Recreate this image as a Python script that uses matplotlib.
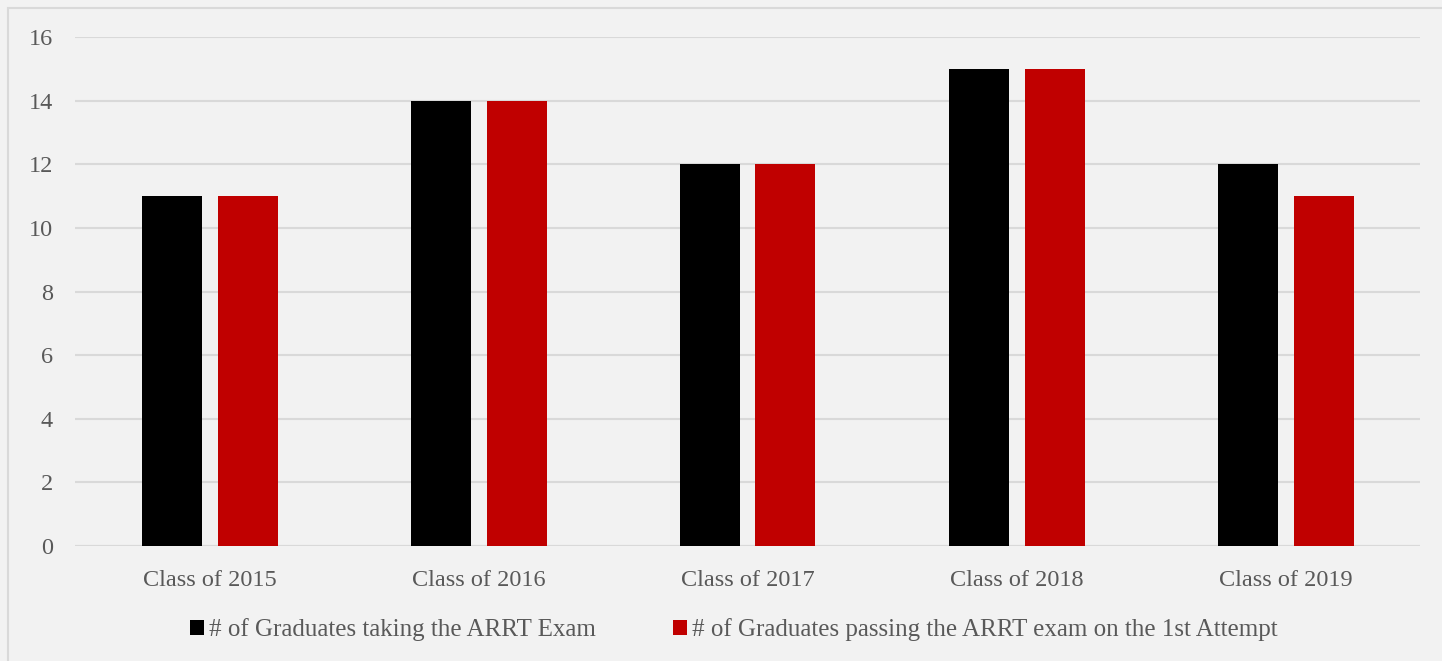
import numpy as np
import matplotlib
matplotlib.use("Agg")
import matplotlib.pyplot as plt
from matplotlib.patches import Rectangle

categories = ["Class of 2015", "Class of 2016", "Class of 2017", "Class of 2018", "Class of 2019"]
taking = [11, 14, 12, 15, 12]
passing = [11, 14, 12, 15, 11]
series_names = ["# of Graduates taking the ARRT Exam",
                "# of Graduates passing the ARRT exam on the 1st Attempt"]
yticks = [0, 2, 4, 6, 8, 10, 12, 14, 16]

plt.rcParams['font.family'] = ['Liberation Serif', 'DejaVu Serif']

W, H = 1442, 661
fig = plt.figure(figsize=(W / 100, H / 100), dpi=100)
fig.patch.set_facecolor('#F2F2F2')
fig.patches.append(Rectangle((8 / W, -0.01), 1.02 - 8 / W, 1 - 8 / H + 0.01,
                             transform=fig.transFigure, fill=False,
                             edgecolor='#D9D9D9', linewidth=1.5))

ax = fig.add_axes([75 / W, 115 / H, 1345 / W, 509 / H])
ax.set_facecolor('#F2F2F2')

x = np.arange(len(categories))
bw = 60 / 269
off = 38 / 269
ax.bar(x - off, taking, bw, color='#000000', label=series_names[0], zorder=3)
ax.bar(x + off, passing, bw, color='#C00000', label=series_names[1], zorder=3)

ax.set_xlim(-0.5, len(categories) - 0.5)
ax.set_ylim(0, 16)
ax.set_yticks(yticks)
ax.set_xticks(x)
ax.set_xticklabels(categories)
ax.yaxis.grid(True, color='#D9D9D9', linewidth=1.5, zorder=0)
for s in ax.spines.values():
    s.set_visible(False)
ax.axhline(0, color='#D9D9D9', linewidth=1.5, zorder=2)
ax.tick_params(axis='both', length=0, labelsize=17.5, labelcolor='#595959')
ax.tick_params(axis='y', pad=16)
ax.tick_params(axis='x', pad=17)

leg = ax.legend(loc='center', bbox_to_anchor=(0.4896, -0.165), ncol=2, frameon=False,
                fontsize=18, handlelength=0.56, handleheight=0.56, handletextpad=0.2,
                columnspacing=3.1, labelcolor='#595959')

fig.savefig('out.png', dpi=100, facecolor=fig.get_facecolor())
